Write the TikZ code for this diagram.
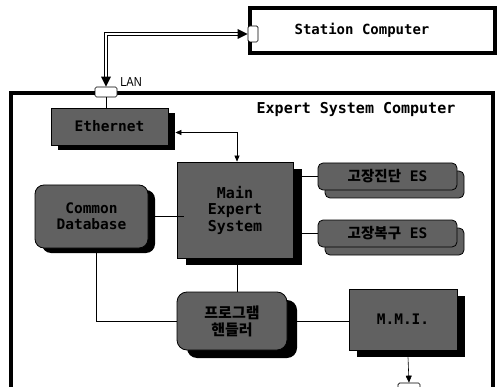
\documentclass[tikz,border=0pt]{standalone}
\usepackage{fontspec}
\setmainfont{DejaVu Sans Mono}
\newfontfamily\kr{Noto Sans CJK KR}
\newfontfamily\lanfont[FakeStretch=0.85]{Liberation Sans}
\usetikzlibrary{shadows,arrows.meta}
\begin{document}
\begin{tikzpicture}[x=1pt,y=-1pt,
  frame/.style={draw=black, line width=3.2pt, fill=white},
  port/.style={draw=black, line width=0.7pt, fill=white, rounded corners=1.5pt, inner sep=0pt},
  box/.style={draw=black, line width=0.8pt, fill=black!62, align=center, inner sep=0pt,
     font=\bfseries\fontsize{14.5}{16}\selectfont},
  shad/.style 2 args={drop shadow={shadow xshift=#1pt, shadow yshift=-#2pt, fill=black, opacity=1}},
  card/.style={copy shadow={shadow xshift=7pt, shadow yshift=-8pt}},
  wire/.style={line width=0.6pt},
  tip/.style={-{Triangle[length=7pt,width=6pt]}},
  lan/.style={double=white, double distance=1.8pt, line width=0.8pt}
]
\useasboundingbox (0,0) rectangle (497,387);
\clip (0,0) rectangle (497,387);

% outer frames
\draw[frame] (250,8) rectangle (495,53);
\node[font=\bfseries\fontsize{14}{16}\selectfont] (stxt) at (362,30) {Station Computer};
\draw[frame] (11,93) rectangle (493,390);
\node[font=\bfseries\fontsize{15}{17}\selectfont] (etxt) at (356,109) {Expert System Computer};

% ports
\node[port, minimum width=10pt, minimum height=16pt] (sport) at (253,34) {};
\node[port, minimum width=22pt, minimum height=10pt] (lport) at (106,92) {};
\node[port, minimum width=22pt, minimum height=10pt] (bport) at (409,388) {};

% boxes
\node[box, shad={7}{5}, minimum width=117pt, minimum height=37pt] (eth) at (109.5,126.5) {Ethernet};
\node[box, shad={9}{7}, minimum width=116pt, minimum height=96pt, font=\bfseries\fontsize{15}{16.5}\selectfont] (main) at (235,210) {Main\\Expert\\System};
\node[box, shad={7}{5}, rounded corners=9pt, minimum width=113pt, minimum height=63pt] (db) at (91.5,216.5) {Common\\Database};
\node[box, card, rounded corners=5pt, minimum width=139pt, minimum height=27pt] (es1) at (387.5,176.5) {{\kr 고장진단} ES};
\node[box, card, rounded corners=5pt, minimum width=139pt, minimum height=27pt] (es2) at (387.5,233.5) {{\kr 고장복구} ES};
\node[box, shad={10}{8}, rounded corners=10pt, minimum width=110pt, minimum height=58pt, font=\kr\bfseries\fontsize{15}{17}\selectfont] (prog) at (232,321) {프로그램\\핸들러};
\node[box, shad={8}{7}, minimum width=108pt, minimum height=61pt] (mmi) at (403,319.5) {M.M.I.};

% connectors
\coordinate (lanc) at (lport.north |- sport.west);
\draw[lan] ([xshift=-8pt]sport.west) -- (lanc) -- ([yshift=8pt]lport.north);
\fill[black] (sport.west) -- ++(-10,-5) -- ++(0,10) -- cycle;
\fill[black] (lport.north) -- ++(-5,-10) -- ++(10,0) -- cycle;
\node[font=\lanfont\fontsize{13}{15}\selectfont] (lanl) at (131,82) {LAN};
\draw[wire] (lport.south) -- (lport.south |- eth.north);
\draw[wire, {Triangle[length=6pt,width=5pt]}-{Triangle[length=6pt,width=5pt]}] ([xshift=7pt,yshift=-6pt]eth.east) -| ([xshift=2pt]main.north);
\draw[wire] ([xshift=7pt]db.east) -- ([xshift=7pt]db.east -| main.west);
\draw[wire] (es1.west) -- ([xshift=9pt]es1.west -| main.east);
\draw[wire] (es2.west) -- ([xshift=9pt]es2.west -| main.east);
\draw[wire] ([xshift=5pt]prog.north) -- ([xshift=5pt,yshift=-7pt]prog.north |- main.south);
\draw[wire] ([xshift=5pt,yshift=-5pt]db.south) |- (prog.west);
\draw[wire] ([xshift=10pt]prog.east) -- (prog.east -| mmi.west);
\draw[wire, tip] ([xshift=5pt,yshift=-7pt]mmi.south) -- (bport.north);
\end{tikzpicture}
\end{document}
